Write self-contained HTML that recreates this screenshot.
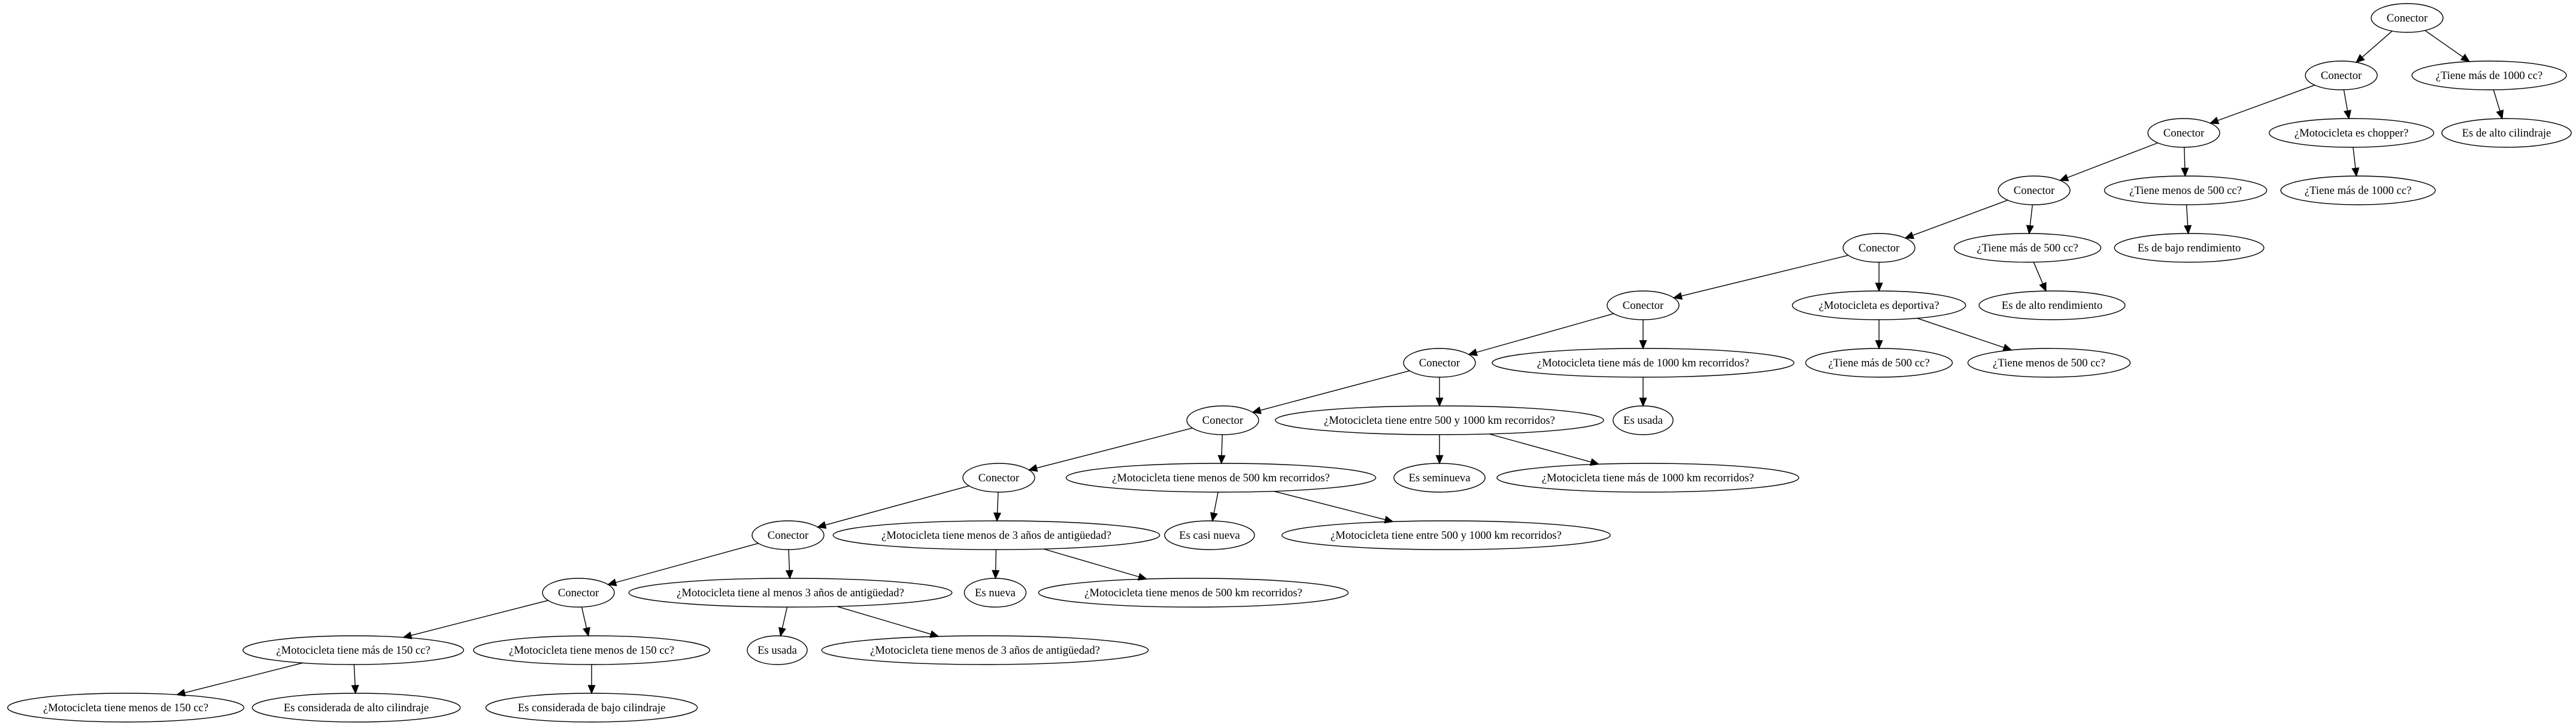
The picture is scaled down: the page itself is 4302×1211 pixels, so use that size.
<!DOCTYPE html>
<html><head><meta charset="utf-8"><style>
html,body{margin:0;padding:0;background:#fff;width:4302px;height:1211px;overflow:hidden}
svg text{font-family:"Liberation Serif",serif;font-size:18.67px}
</style></head><body>
<svg id="s" width="4302" height="1211" xmlns="http://www.w3.org/2000/svg">
<rect width="4302" height="1211" fill="#fff"/>
<g id="e"></g><g id="n"></g>
</svg>
<script>
var N={
r:[4020,0,"Conector"],c1:[3910,1,"Conector"],t1000a:[4157,1,"¿Tiene más de 1000 cc?"],
c2:[3647,2,"Conector"],chop:[3927,2,"¿Motocicleta es chopper?"],altoCil:[4186,2,"Es de alto cilindraje"],
c3:[3397,3,"Conector"],m500a:[3650,3,"¿Tiene menos de 500 cc?"],t1000b:[3938,3,"¿Tiene más de 1000 cc?"],
c4:[3138,4,"Conector"],M500a:[3386,4,"¿Tiene más de 500 cc?"],bajoRend:[3656,4,"Es de bajo rendimiento"],
c5:[2744,5,"Conector"],dep:[3138,5,"¿Motocicleta es deportiva?"],altoRend:[3427,5,"Es de alto rendimiento"],
c6:[2404,6,"Conector"],k1000a:[2744,6,"¿Motocicleta tiene más de 1000 km recorridos?"],M500b:[3138,6,"¿Tiene más de 500 cc?"],m500b:[3422,6,"¿Tiene menos de 500 cc?"],
c7:[2042,7,"Conector"],entreA:[2404,7,"¿Motocicleta tiene entre 500 y 1000 km recorridos?"],usadaA:[2744,7,"Es usada"],
c8:[1668,8,"Conector"],k500a:[2039,8,"¿Motocicleta tiene menos de 500 km recorridos?"],semi:[2404,8,"Es seminueva"],k1000b:[2752,8,"¿Motocicleta tiene más de 1000 km recorridos?"],
c9:[1316,9,"Conector"],a3a:[1664,9,"¿Motocicleta tiene menos de 3 años de antigüedad?"],casi:[2020,9,"Es casi nueva"],entreB:[2415,9,"¿Motocicleta tiene entre 500 y 1000 km recorridos?"],
c10:[966,10,"Conector"],al3:[1320,10,"¿Motocicleta tiene al menos 3 años de antigüedad?"],nueva:[1662,10,"Es nueva"],k500b:[1993,10,"¿Motocicleta tiene menos de 500 km recorridos?"],
M150:[590,11,"¿Motocicleta tiene más de 150 cc?"],m150a:[988,11,"¿Motocicleta tiene menos de 150 cc?"],usadaB:[1298,11,"Es usada"],a3b:[1645,11,"¿Motocicleta tiene menos de 3 años de antigüedad?"],
m150b:[210,12,"¿Motocicleta tiene menos de 150 cc?"],altoCil2:[595,12,"Es considerada de alto cilindraje"],bajoCil:[988,12,"Es considerada de bajo cilindraje"]
};
var E=[["r","c1"],["r","t1000a"],["c1","c2"],["c1","chop"],["t1000a","altoCil"],["c2","c3"],["c2","m500a"],["chop","t1000b"],
["c3","c4"],["c3","M500a"],["m500a","bajoRend"],["c4","c5"],["c4","dep"],["M500a","altoRend"],["c5","c6"],["c5","k1000a"],
["dep","M500b"],["dep","m500b"],["c6","c7"],["c6","entreA"],["k1000a","usadaA"],["c7","c8"],["c7","k500a"],["entreA","semi"],["entreA","k1000b"],
["c8","c9"],["c8","a3a"],["k500a","casi"],["k500a","entreB"],["c9","c10"],["c9","al3"],["a3a","nueva"],["a3a","k500b"],
["c10","M150"],["c10","m150a"],["al3","usadaB"],["al3","a3b"],["M150","m150b"],["M150","altoCil2"],["m150a","bajoCil"]];
var NS="http://www.w3.org/2000/svg",gn=document.getElementById("n"),ge=document.getElementById("e");
function el(t,a,p){var x=document.createElementNS(NS,t);for(var k in a)x.setAttribute(k,a[k]);p.appendChild(x);return x;}
var ry=24;
for(var k in N){var d=N[k],cx=d[0],cy=30+96*d[1];
 var el1=el("ellipse",{cx:cx,cy:cy,rx:60,ry:ry,fill:"none",stroke:"#000","stroke-width":1.4},gn);
 var t=el("text",{x:cx,y:cy+6,"text-anchor":"middle"},gn);t.textContent=d[2];
 var w=t.getComputedTextLength?t.getComputedTextLength():d[2].length*8;
 if(!w)w=d[2].length*8;
 var rx=d[2]=="Conector"?60:Math.max(50,0.7*w+4);
 el1.setAttribute("rx",rx);d.push(cx,cy,rx);}
function clip(cx,cy,rx,dx,dy){var t=1/Math.sqrt(dx*dx/(rx*rx)+dy*dy/(ry*ry));return [cx+dx*t,cy+dy*t];}
E.forEach(function(p){var a=N[p[0]],b=N[p[1]];var ax=a[3],ay=a[4],bx=b[3],by=b[4];
 var dx=bx-ax,dy=by-ay;
 var s=clip(ax,ay,a[5],dx,dy),e=clip(bx,by,b[5],-dx,-dy);
 var L=Math.hypot(e[0]-s[0],e[1]-s[1]),ux=(e[0]-s[0])/L,uy=(e[1]-s[1])/L,h=13,w=5.5;
 var bx2=e[0]-ux*h,by2=e[1]-uy*h;
 el("line",{x1:s[0],y1:s[1],x2:bx2,y2:by2,stroke:"#000","stroke-width":1.4},ge);
 el("polygon",{points:e[0]+","+e[1]+" "+(bx2-uy*w)+","+(by2+ux*w)+" "+(bx2+uy*w)+","+(by2-ux*w),fill:"#000",stroke:"#000","stroke-width":1.4},ge);
});
</script>
</body></html>
